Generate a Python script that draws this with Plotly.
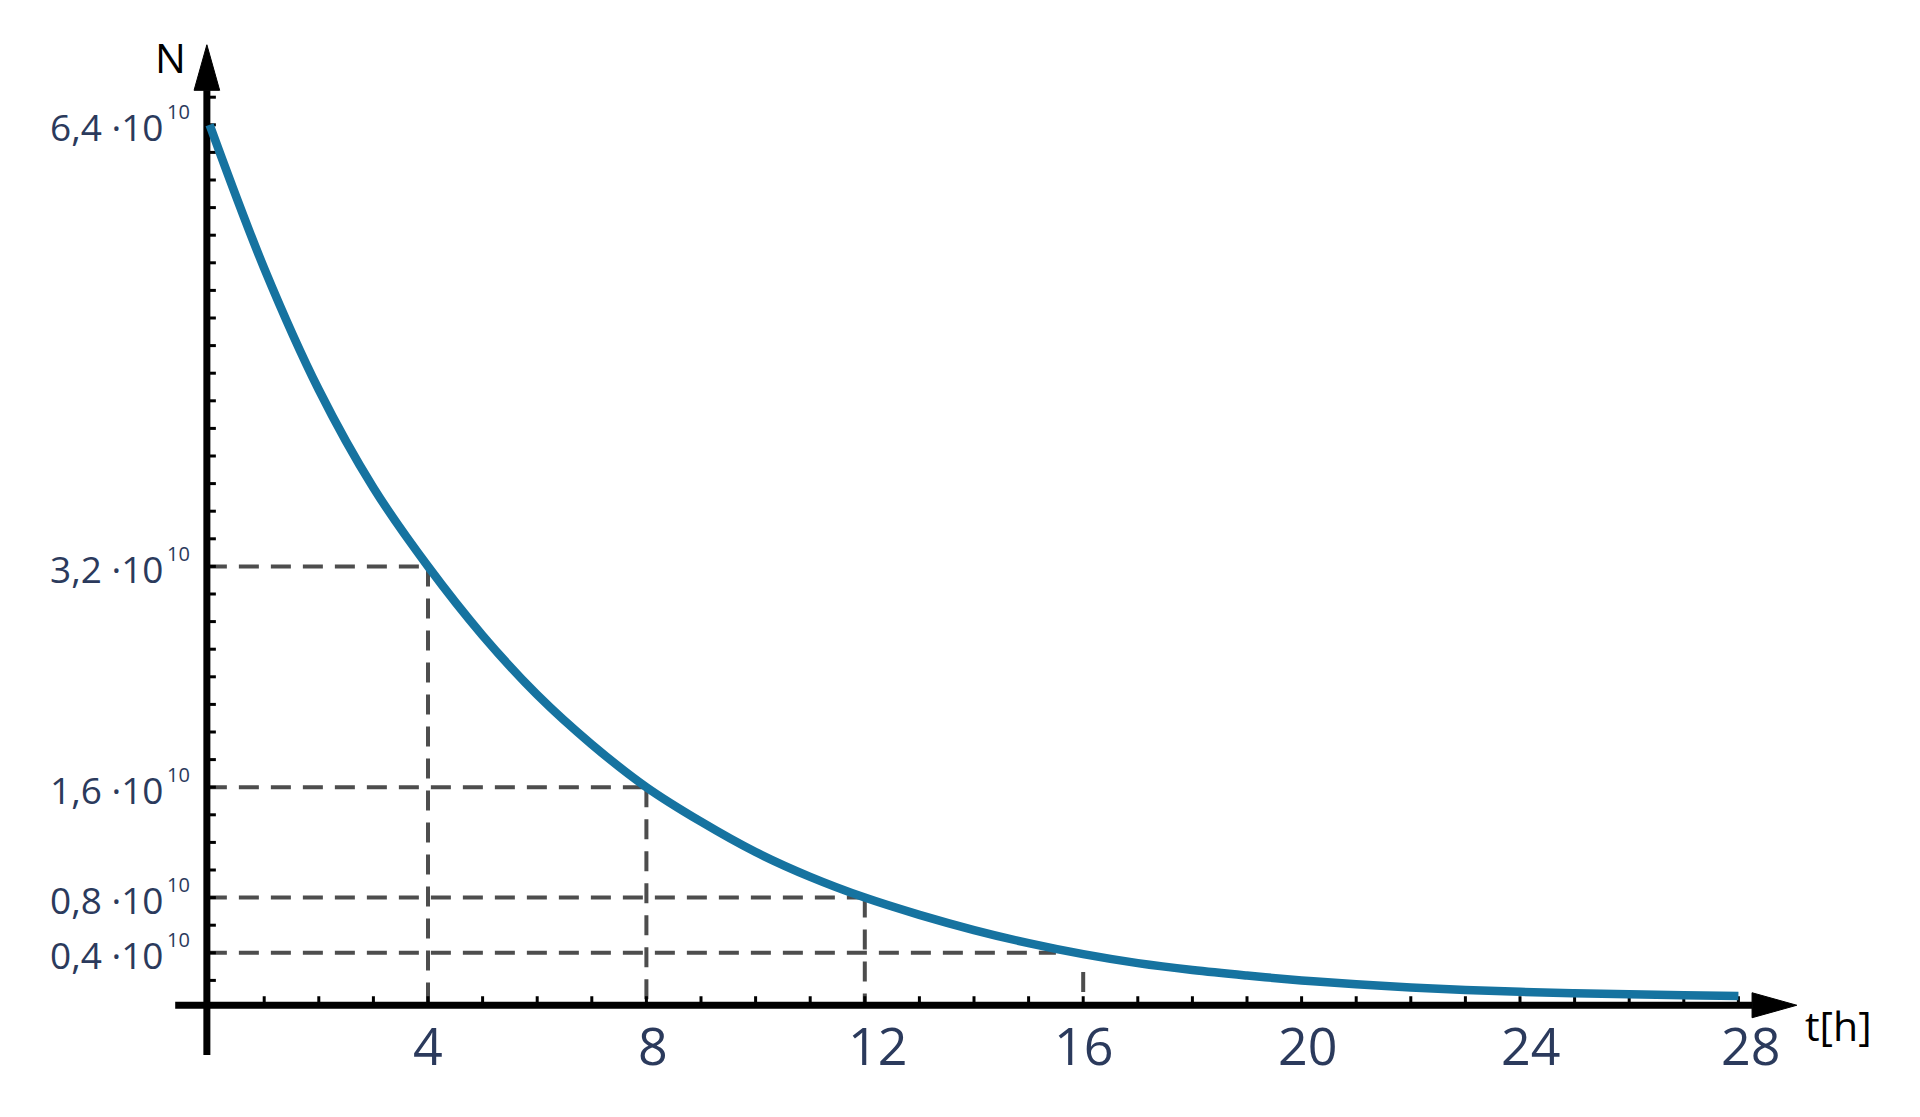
import plotly.graph_objects as go

# ---------------- data ----------------
T = [0, 1, 2, 3, 4, 5, 6, 7, 8, 9, 10, 11, 12, 13, 14, 15, 16, 17, 18, 19, 20,
     21, 22, 23, 24, 25, 26, 27, 28]
N = [6.4, 5.36, 4.48, 3.77, 3.2, 2.70, 2.27, 1.91, 1.6, 1.35, 1.13, 0.95, 0.8,
     0.675, 0.565, 0.47, 0.39, 0.325, 0.275, 0.235, 0.2,
     0.172, 0.149, 0.131, 0.117, 0.107, 0.099, 0.092, 0.087]

X_TICKS = [4, 8, 12, 16, 20, 24, 28]
X_TICK_LABELS = ["4", "8", "12", "16", "20", "24", "28"]
Y_TICKS = [6.4, 3.2, 1.6, 0.8, 0.4]
Y_TICK_LABELS = ["6,4 \u00b710", "3,2 \u00b710", "1,6 \u00b710", "0,8 \u00b710", "0,4 \u00b710"]
Y_EXP = "10"

GUIDE_N = [3.2, 1.6, 0.8, 0.4]
GUIDE_H_END = [4, 8, 12, 15.5]
GUIDE_T = [4, 8, 12, 16]
GUIDE_V_TOP = [3.2, 1.6, 0.8, 0.26]

X_MINOR = list(range(1, 29))
Y_MINOR = [round(0.2 * k, 1) for k in range(1, 34)]

# ---------------- styling / geometry ----------------
PAGE_OFFSET = 8          # default body margin of the html page
W, H = 1920 - 2 * PAGE_OFFSET, 1117 - 2 * PAGE_OFFSET
PX_X = 54.6      # pixels per hour
PX_Y = 138.0     # pixels per 1e10
X0_PX = 209.6 - PAGE_OFFSET
Y0_PX = 1008.0 - PAGE_OFFSET
DX = 1.0 / PX_X
DY = 1.0 / PX_Y

X_RANGE = [-X0_PX * DX, (W - X0_PX) * DX]
Y_RANGE = [-(H - Y0_PX) * DY, Y0_PX * DY]

AX_X = -0.05      # position of vertical axis
AX_Y = 0.02       # position of horizontal axis
XA_START, XA_END, XA_TIP = -0.63, 28.25, 29.07
YA_START, YA_END, YA_TIP = -0.34, 6.65, 6.98

X_LABEL_XSHIFT = [0, 7, 13, 0, 6, 10, 12]   # label nudges (px) as in the original

TEXT_COLOR = "#2b3a5c"
CURVE_COLOR = "#1673a0"
GUIDE_COLOR = "#4d4d4d"
FONT = "Open Sans"

fig = go.Figure()

# dashed guide lines
gx, gy = [], []
for n, te in zip(GUIDE_N, GUIDE_H_END):
    gx += [AX_X, te, None]
    gy += [n, n, None]
for t, top in zip(GUIDE_T, GUIDE_V_TOP):
    gx += [t, t, None]
    gy += [top, AX_Y, None]
fig.add_trace(go.Scatter(x=gx, y=gy, mode="lines",
                         line=dict(color=GUIDE_COLOR, width=4, dash="20px,12px"),
                         hoverinfo="skip"))

# minor ticks
tx, ty = [], []
for t in X_MINOR:
    tx += [t, t, None]
    ty += [AX_Y, AX_Y + 9 * DY, None]
for n in Y_MINOR:
    tx += [AX_X, AX_X + 9 * DX, None]
    ty += [n, n, None]
fig.add_trace(go.Scatter(x=tx, y=ty, mode="lines",
                         line=dict(color="black", width=3), hoverinfo="skip"))

# axes lines
fig.add_trace(go.Scatter(x=[XA_START, XA_END], y=[AX_Y, AX_Y], mode="lines",
                         line=dict(color="black", width=7), hoverinfo="skip"))
fig.add_trace(go.Scatter(x=[AX_X, AX_X], y=[YA_START, YA_END], mode="lines",
                         line=dict(color="black", width=7), hoverinfo="skip"))

# arrowheads
hx = 12.5 * DY
fig.add_trace(go.Scatter(x=[XA_END, XA_TIP, XA_END, XA_END],
                         y=[AX_Y - hx, AX_Y, AX_Y + hx, AX_Y - hx],
                         mode="lines", fill="toself", fillcolor="black",
                         line=dict(color="black", width=1), hoverinfo="skip"))
hy = 12.8 * DX
fig.add_trace(go.Scatter(x=[AX_X - hy, AX_X, AX_X + hy, AX_X - hy],
                         y=[YA_END, YA_TIP, YA_END, YA_END],
                         mode="lines", fill="toself", fillcolor="black",
                         line=dict(color="black", width=1), hoverinfo="skip"))

# the curve
fig.add_trace(go.Scatter(x=T, y=N, mode="lines",
                         line=dict(color=CURVE_COLOR, width=8.5, shape="spline", smoothing=1.0),
                         hoverinfo="skip"))

ann = []
# x tick labels
for t, lab, xs in zip(X_TICKS, X_TICK_LABELS, X_LABEL_XSHIFT):
    ann.append(dict(x=t, y=-36 * DY, text=lab, showarrow=False,
                    xanchor="center", yanchor="middle", xshift=xs,
                    font=dict(family=FONT, size=52, color=TEXT_COLOR)))
# y tick labels
for n, lab in zip(Y_TICKS, Y_TICK_LABELS):
    ann.append(dict(x=-43.6 * DX, y=n, text=lab, showarrow=False,
                    xanchor="right", yanchor="middle", yshift=-2,
                    font=dict(family=FONT, size=37, color=TEXT_COLOR)))
    ann.append(dict(x=-45.0 * DX, y=n, text=Y_EXP, showarrow=False,
                    xanchor="left", yanchor="middle", yshift=13,
                    font=dict(family=FONT, size=20, color=TEXT_COLOR)))
# axis titles
ann.append(dict(x=-39.6 * DX, y=6.89, text="N", showarrow=False,
                xanchor="center", yanchor="middle",
                font=dict(family=FONT, size=41, color="black")))
ann.append(dict(x=29.18, y=-0.12, text="t[h]", showarrow=False,
                xanchor="left", yanchor="middle",
                font=dict(family=FONT, size=41, color="black")))

fig.update_layout(
    width=W, height=H,
    margin=dict(l=0, r=0, t=0, b=0, pad=0, autoexpand=False),
    paper_bgcolor="white", plot_bgcolor="white",
    showlegend=False,
    xaxis=dict(visible=False, range=X_RANGE, fixedrange=True),
    yaxis=dict(visible=False, range=Y_RANGE, fixedrange=True),
    annotations=ann,
)

fig.write_html("out.html")
